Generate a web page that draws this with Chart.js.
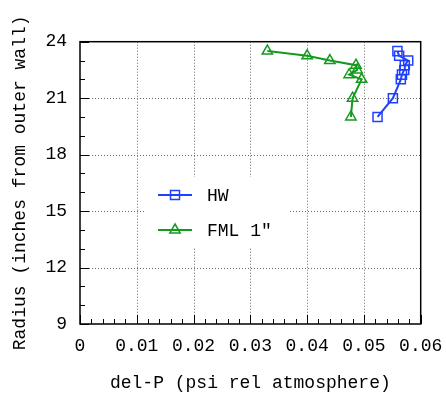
<!DOCTYPE html>
<html>
<head>
<meta charset="utf-8">
<script src="https://cdn.jsdelivr.net/npm/chart.js@4"></script>
<style>
  html, body { margin: 0; padding: 0; background: #fff; }
  #wrap { width: 446px; height: 394px; }
</style>
</head>
<body>
<div id="wrap"><canvas id="c" width="446" height="394"></canvas></div>
<script>
// ---- data ----
const hwLabel = 'HW';
const hwRadius = [20, 21, 22, 22.25, 22.5, 22.75, 23, 23.25, 23.5];
const hwDelP   = [0.0524, 0.0551, 0.0565, 0.0567, 0.0571, 0.0572, 0.0578, 0.0562, 0.0559];

const fmlLabel = 'FML 1"';
const fmlRadius = [20, 21, 22, 22.25, 22.5, 22.75, 23, 23.25, 23.5];
const fmlDelP   = [0.0477, 0.0480, 0.0496, 0.0474, 0.0488, 0.0486, 0.0440, 0.0400, 0.0330];

const xTickLabels = ['0', '0.01', '0.02', '0.03', '0.04', '0.05', '0.06'];
const yTickLabels = ['9', '12', '15', '18', '21', '24'];

const xTitle = 'del-P (psi rel atmosphere)';
const yTitle = 'Radius (inches from outer wall)';

// ---- style ----
const FONT = '"Courier New", "Liberation Mono", monospace';
const BLUE = '#2040ff';
const GREEN = '#149a1e';

function toPoints(xs, ys) { return xs.map((x, i) => ({ x: x, y: ys[i] })); }

const gridPlugin = {
  id: 'gnuGrid',
  beforeDatasetsDraw(chart) {
    const { ctx, chartArea: a, scales: { x, y } } = chart;
    ctx.save();
    ctx.strokeStyle = '#666';
    ctx.lineWidth = 1;
    ctx.setLineDash([1, 2]);
    x.ticks.forEach(t => {
      if (t.value <= x.min || t.value >= x.max) return;
      const px = Math.round(x.getPixelForValue(t.value)) + 0.5;
      ctx.beginPath(); ctx.moveTo(px, a.top); ctx.lineTo(px, a.bottom); ctx.stroke();
    });
    y.ticks.forEach(t => {
      if (t.value <= y.min || t.value >= y.max) return;
      const py = Math.round(y.getPixelForValue(t.value)) + 0.5;
      ctx.beginPath(); ctx.moveTo(a.left, py); ctx.lineTo(a.right, py); ctx.stroke();
    });
    ctx.setLineDash([]);
    // inward tick marks
    ctx.strokeStyle = '#000';
    for (let v = 9; v <= 24.0001; v += 1) {
      const py = Math.round(y.getPixelForValue(v)) + 0.5;
      const major = Math.abs((v - 9) / 3 - Math.round((v - 9) / 3)) < 1e-6;
      ctx.beginPath(); ctx.moveTo(a.left, py); ctx.lineTo(a.left + (major ? 9 : 5), py); ctx.stroke();
    }
    for (let k = 0; k <= 30; k++) {
      const v = k * 0.002;
      const px = Math.round(x.getPixelForValue(v)) + 0.5;
      const major = k % 5 === 0;
      ctx.beginPath(); ctx.moveTo(px, a.bottom); ctx.lineTo(px, a.bottom - (major ? 9 : 5)); ctx.stroke();
    }
    ctx.restore();
  },
  afterDatasetsDraw(chart) {
    const { ctx, chartArea: a } = chart;
    ctx.save();
    ctx.strokeStyle = '#000';
    ctx.lineWidth = 1.5;
    ctx.strokeRect(a.left, a.top, a.right - a.left, a.bottom - a.top);
    // legend (opaque key box)
    ctx.fillStyle = '#fff';
    ctx.fillRect(145, 177, 145, 70);
    const entries = chart.data.datasets;
    entries.forEach((ds, i) => {
      const cy = 195 + i * 35;
      ctx.strokeStyle = ds.borderColor;
      ctx.lineWidth = 2;
      ctx.beginPath(); ctx.moveTo(158, cy); ctx.lineTo(192, cy); ctx.stroke();
      ctx.lineWidth = 1.5;
      if (ds.pointStyle === 'rect') {
        ctx.strokeRect(175 - 4.5, cy - 4.5, 9, 9);
      } else {
        ctx.beginPath();
        ctx.moveTo(175, cy - 6);
        ctx.lineTo(175 + 5.2, cy + 3);
        ctx.lineTo(175 - 5.2, cy + 3);
        ctx.closePath();
        ctx.stroke();
      }
      ctx.fillStyle = '#000';
      ctx.font = '18px ' + FONT;
      ctx.textBaseline = 'middle';
      ctx.textAlign = 'left';
      ctx.fillText(ds.label, 207, cy + 1);
    });
    ctx.restore();
  }
};

new Chart(document.getElementById('c'), {
  type: 'scatter',
  data: {
    datasets: [
      {
        label: hwLabel,
        data: toPoints(hwDelP, hwRadius),
        showLine: true,
        borderColor: BLUE,
        backgroundColor: 'rgba(0,0,0,0)',
        borderWidth: 2,
        pointStyle: 'rect',
        pointRadius: 6.4,
        pointBorderWidth: 1.5,
        pointBorderColor: BLUE,
        pointBackgroundColor: 'rgba(0,0,0,0)'
      },
      {
        label: fmlLabel,
        data: toPoints(fmlDelP, fmlRadius),
        showLine: true,
        borderColor: GREEN,
        backgroundColor: 'rgba(0,0,0,0)',
        borderWidth: 2,
        pointStyle: 'triangle',
        pointRadius: 6,
        pointBorderWidth: 1.5,
        pointBorderColor: GREEN,
        pointBackgroundColor: 'rgba(0,0,0,0)'
      }
    ]
  },
  options: {
    responsive: false,
    animation: false,
    devicePixelRatio: 1,
    layout: { padding: { left: 0, right: 25.3, top: 41.7, bottom: 0 } },
    plugins: { legend: { display: false }, tooltip: { enabled: false } },
    scales: {
      x: {
        type: 'linear',
        min: 0, max: 0.06,
        afterFit(s) { s.height = 70; s.paddingLeft = 0; s.paddingRight = 0; },
        afterBuildTicks(s) { s.ticks = xTickLabels.map((_, i) => ({ value: i * 0.01 })); },
        ticks: {
          padding: 11,
          color: '#000',
          font: { family: FONT, size: 18 },
          maxRotation: 0,
          autoSkip: false,
          callback(v, i) { return xTickLabels[i]; }
        },
        grid: { display: false, drawTicks: false },
        border: { display: false },
        title: {
          display: true, text: xTitle, color: '#000',
          font: { family: FONT, size: 18 },
          padding: { top: 0, bottom: 0 }
        }
      },
      y: {
        type: 'linear',
        min: 9, max: 24,
        afterFit(s) { s.width = 80; s.paddingTop = 0; s.paddingBottom = 0; },
        afterBuildTicks(s) { s.ticks = yTickLabels.map((_, i) => ({ value: 9 + i * 3 })); },
        ticks: {
          padding: 13,
          color: '#000',
          font: { family: FONT, size: 18 },
          autoSkip: false,
          callback(v, i) { return yTickLabels[i]; }
        },
        grid: { display: false, drawTicks: false },
        border: { display: false },
        title: {
          display: true, text: yTitle, color: '#000',
          font: { family: FONT, size: 18 },
          padding: { top: 9, bottom: 0 }
        }
      }
    }
  },
  plugins: [gridPlugin]
});
</script>
</body>
</html>
